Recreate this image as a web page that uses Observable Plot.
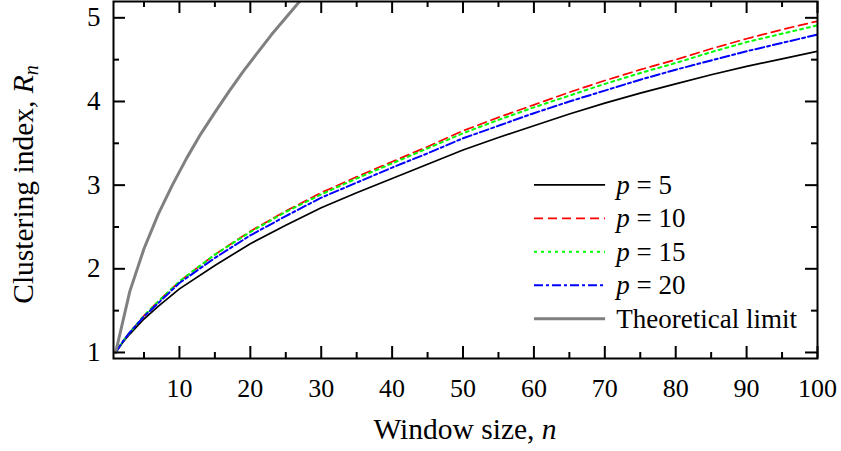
<!DOCTYPE html>
<html>
<head>
<meta charset="utf-8">
<script src="https://cdn.jsdelivr.net/npm/d3@7"></script>
<script src="https://cdn.jsdelivr.net/npm/@observablehq/plot@0.6"></script>
<style>
  html, body { margin: 0; padding: 0; background: white; }
  #chart { width: 841px; height: 451px; }
</style>
</head>
<body>
<div id="chart"></div>
<script>
// ---- data ----
const windowSize = [1, 2, 3, 5, 7, 10, 15, 20, 25, 30, 35, 40, 45, 50, 55, 60, 65, 70, 75, 80, 85, 90, 95, 100];
const p5  = [1.00, 1.12, 1.22, 1.40, 1.55, 1.76, 2.04, 2.30, 2.52, 2.73, 2.91, 3.08, 3.25, 3.42, 3.57, 3.71, 3.85, 3.98, 4.10, 4.21, 4.32, 4.42, 4.51, 4.60];
const p10 = [1.00, 1.13, 1.24, 1.44, 1.61, 1.85, 2.17, 2.45, 2.69, 2.91, 3.10, 3.28, 3.46, 3.65, 3.81, 3.96, 4.11, 4.25, 4.38, 4.50, 4.63, 4.75, 4.86, 4.96];
const p15 = [1.00, 1.13, 1.24, 1.44, 1.61, 1.85, 2.17, 2.44, 2.68, 2.89, 3.08, 3.26, 3.44, 3.62, 3.78, 3.93, 4.07, 4.21, 4.34, 4.46, 4.59, 4.71, 4.81, 4.91];
const p20 = [1.00, 1.13, 1.24, 1.43, 1.59, 1.83, 2.13, 2.40, 2.63, 2.85, 3.03, 3.21, 3.38, 3.56, 3.71, 3.86, 4.00, 4.13, 4.26, 4.38, 4.49, 4.60, 4.70, 4.80];
const limitN = [1, 3, 5, 7, 9, 11, 13, 15, 17, 19, 21, 23, 25, 27, 29];
const limitR = [1.00, 1.73, 2.24, 2.65, 3.00, 3.32, 3.61, 3.87, 4.12, 4.36, 4.58, 4.80, 5.00, 5.20, 5.39];
const xMajorTicks = [10, 20, 30, 40, 50, 60, 70, 80, 90, 100];
const xMinorTicks = [5, 15, 25, 35, 45, 55, 65, 75, 85, 95];
const yMajorTicks = [1, 2, 3, 4, 5];
const yMinorTicks = [1.5, 2.5, 3.5, 4.5];
const seriesNames = ["p = 5", "p = 10", "p = 15", "p = 20", "Theoretical limit"];

// ---- layout ----
const W = 841, H = 451;
const mL = 113, mR = 24, mT = 1, mB = 93;
const plotW = W - mL - mR, plotH = H - mT - mB;
const major = 12, minor = 6;
const font = "'Liberation Serif', 'Times New Roman', serif";

const toRows = (xs, ys) => xs.map((x, i) => ({x, y: ys[i]}));
const styles = [
  {stroke: "#000000", strokeWidth: 1.7, dash: null},
  {stroke: "#ff0000", strokeWidth: 1.7, dash: "9,5"},
  {stroke: "#00ff00", strokeWidth: 2, dash: "3,4"},
  {stroke: "#0000ff", strokeWidth: 2, dash: "9,3,3,3"},
  {stroke: "#808080", strokeWidth: 3, dash: null}
];
const seriesData = [
  toRows(windowSize, p5), toRows(windowSize, p10), toRows(windowSize, p15),
  toRows(windowSize, p20), toRows(limitN, limitR)
];

const lineMarks = seriesData.map((d, i) => Plot.line(d, {
  x: "x", y: "y", stroke: styles[i].stroke, strokeWidth: styles[i].strokeWidth,
  strokeDasharray: styles[i].dash, clip: true
}));

const chart = Plot.plot({
  width: W, height: H,
  marginLeft: mL, marginRight: mR, marginTop: mT, marginBottom: mB,
  style: {fontFamily: font, background: "white", color: "black"},
  x: {domain: [0.7, 100]},
  y: {domain: [0.928, 5.195]},
  marks: [
    ...lineMarks,
    Plot.frame({stroke: "black", strokeWidth: 2}),
    // inward ticks: bottom / top
    Plot.tickX(xMajorTicks, {x: d => d, insetTop: plotH - major, strokeWidth: 2}),
    Plot.tickX(xMinorTicks, {x: d => d, insetTop: plotH - minor, strokeWidth: 2}),
    Plot.tickX(xMajorTicks, {x: d => d, insetBottom: plotH - major, strokeWidth: 2}),
    Plot.tickX(xMinorTicks, {x: d => d, insetBottom: plotH - minor, strokeWidth: 2}),
    // inward ticks: left / right
    Plot.tickY(yMajorTicks, {y: d => d, insetRight: plotW - major, strokeWidth: 2}),
    Plot.tickY(yMinorTicks, {y: d => d, insetRight: plotW - minor, strokeWidth: 2}),
    Plot.tickY(yMajorTicks, {y: d => d, insetLeft: plotW - major, strokeWidth: 2}),
    Plot.tickY(yMinorTicks, {y: d => d, insetLeft: plotW - minor, strokeWidth: 2}),
    Plot.axisX(xMajorTicks, {tickSize: 0, tickPadding: 20, fontSize: 26, label: null, tickFormat: d => String(d)}),
    Plot.axisY(yMajorTicks, {tickSize: 0, tickPadding: 13, fontSize: 27, label: null, tickFormat: d => String(d)})
  ]
});

document.getElementById("chart").appendChild(chart);

// ---- axis titles and in-plot legend ----
const svg = d3.select(chart);
svg.selectAll("g[aria-label='x-axis tick label'] text, g[aria-label='y-axis tick label'] text")
  .attr("fill", "black");

const xt = svg.append("text")
  .attr("x", mL + plotW / 2).attr("y", 439)
  .attr("text-anchor", "middle")
  .style("font-family", font).style("font-size", "29.5px").attr("fill", "black");
xt.append("tspan").text("Window size, ");
xt.append("tspan").attr("font-style", "italic").text("n");

const yt = svg.append("text")
  .attr("transform", `translate(33, ${mT + plotH / 2 + 5}) rotate(-90)`)
  .attr("text-anchor", "middle")
  .style("font-family", font).style("font-size", "29.5px").attr("fill", "black");
yt.append("tspan").text("Clustering index, ");
yt.append("tspan").attr("font-style", "italic").text("R");
yt.append("tspan").attr("font-style", "italic").attr("font-size", "20px").attr("dy", "5").text("n");

const legend = svg.append("g").attr("text-anchor", "start");
const lx0 = mL + plotW * 0.598, lx1 = mL + plotW * 0.699, tx = mL + plotW * 0.715;
const ly0 = mT + plotH * 0.515, lstep = plotH * 0.0937;
seriesNames.forEach((name, i) => {
  const y = ly0 + i * lstep;
  legend.append("line")
    .attr("x1", lx0).attr("x2", lx1).attr("y1", y).attr("y2", y)
    .attr("stroke", styles[i].stroke).attr("stroke-width", styles[i].strokeWidth)
    .attr("stroke-dasharray", styles[i].dash);
  const t = legend.append("text")
    .attr("x", tx).attr("y", y).attr("dy", "0.33em")
    .attr("text-anchor", "start")
    .style("font-family", font).style("font-size", "27px").attr("fill", "black");
  if (name.startsWith("p")) {
    t.append("tspan").attr("font-style", "italic").text("p");
    t.append("tspan").text(name.slice(1));
  } else {
    t.text(name);
  }
});
</script>
</body>
</html>
